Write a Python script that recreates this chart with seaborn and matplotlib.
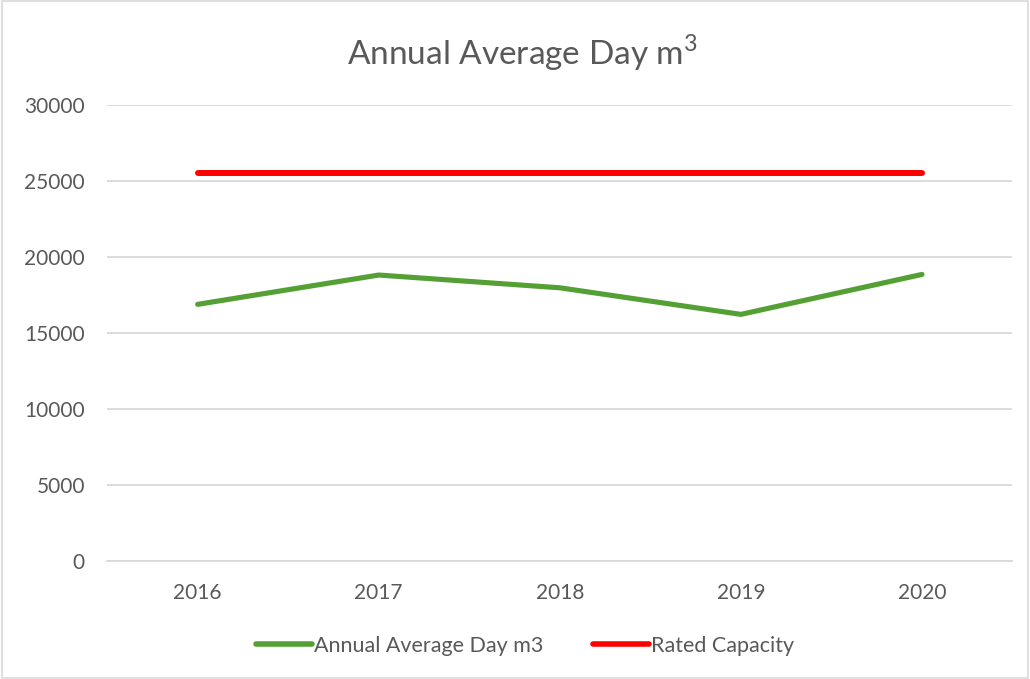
import pandas as pd
import matplotlib.pyplot as plt
import seaborn as sns
from matplotlib.patches import Rectangle

# Values
years = ["2016", "2017", "2018", "2019", "2020"]
annual_avg = [16890, 18820, 17980, 16230, 18860]
rated_capacity = [25550, 25550, 25550, 25550, 25550]
yticks = [0, 5000, 10000, 15000, 20000, 25000, 30000]

df = pd.DataFrame({
    "Year": years * 2,
    "Value": annual_avg + rated_capacity,
    "Series": ["Annual Average Day m3"] * 5 + ["Rated Capacity"] * 5,
})

sns.set_style("white")
plt.rcParams["font.family"] = ["Lato", "DejaVu Sans"]
text_col = "#595959"

fig = plt.figure(figsize=(10.3, 6.79), dpi=100)
ax = fig.add_axes([0.104, 0.174, 0.879, 0.671])

sns.lineplot(data=df, x="Year", y="Value", hue="Series",
             palette={"Annual Average Day m3": "#55a035", "Rated Capacity": "#ff0000"},
             ax=ax, sort=False, legend=False)
ax.lines[0].set_linewidth(3.7)
ax.lines[1].set_linewidth(4.3)
for ln in ax.lines:
    ln.set_solid_capstyle("round")

ax.set_xlim(-0.5, 4.5)
ax.set_ylim(0, 30000)
ax.set_yticks(yticks)
ax.set_yticklabels([str(t) for t in yticks])
ax.grid(axis="y", color="#d9d9d9", linewidth=1.3)
ax.set_axisbelow(True)
for s in ["top", "right", "left"]:
    ax.spines[s].set_visible(False)
ax.spines["bottom"].set_color("#d9d9d9")
ax.spines["bottom"].set_linewidth(1.3)
ax.tick_params(axis="both", colors=text_col, labelsize=15, length=0)
ax.tick_params(axis="x", pad=16)
ax.tick_params(axis="y", pad=16)
ax.set_xlabel("")
ax.set_ylabel("")

fig.suptitle(r"Annual Average Day m$^\mathregular{3}$", x=0.507, y=0.952,
             fontsize=24, color=text_col)

handles = [plt.Line2D([], [], color="#55a035", lw=4, solid_capstyle="round"),
           plt.Line2D([], [], color="#ff0000", lw=4, solid_capstyle="round")]
fig.legend(handles, ["Annual Average Day m3", "Rated Capacity"], loc="center",
           bbox_to_anchor=(0.51, 0.049), ncol=2, frameon=False, fontsize=15.5,
           labelcolor=text_col, handlelength=2.6, handletextpad=0.1, columnspacing=2.3)

fig.patches.append(Rectangle((0.002, 0.002), 0.996, 0.996, transform=fig.transFigure,
                             fill=False, edgecolor="#d9d9d9", linewidth=1.2))

plt.savefig("out.png", dpi=100)
plt.close()
